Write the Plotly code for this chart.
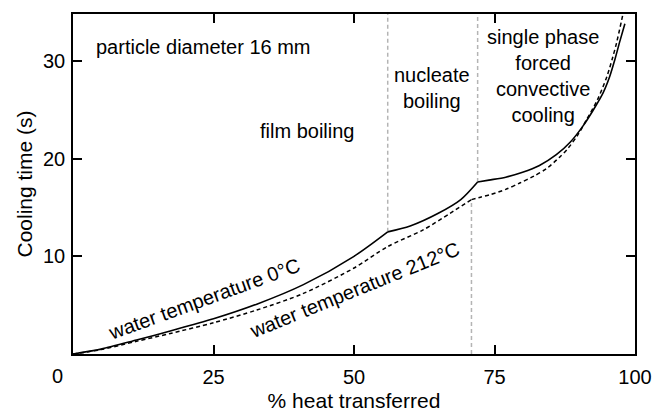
import plotly.graph_objects as go

# Cooling curve, water temperature 0°C (solid)
x_cold = [0, 5, 11.3, 17.3, 25, 32.7, 41, 50, 56, 60, 65, 69, 72, 74, 77, 80, 83, 86, 88.5, 90.7, 92.5, 94.3, 95.5, 96.4, 97.3, 98.2]
y_cold = [0, 0.5, 1.43, 2.35, 3.6, 5.1, 7.1, 10.0, 12.5, 13.1, 14.4, 15.8, 17.6, 17.8, 18.1, 18.6, 19.3, 20.4, 21.7, 23.3, 24.9, 26.7, 28.4, 30.1, 32.0, 33.8]
cold_knees = [56, 72]

# Cooling curve, water temperature 212°C (dashed)
x_hot = [0, 5, 11.3, 17.3, 25, 32.7, 41, 50, 56, 62.3, 67.1, 70.9, 72.5, 74.2, 77, 79.5, 82, 84.3, 86.5, 88, 89.8, 91.4, 93.3, 95, 96, 96.7, 97.9]
y_hot = [0, 0.45, 1.3, 2.1, 3.2, 4.5, 6.2, 8.8, 11.0, 12.7, 14.4, 15.8, 16.05, 16.3, 16.85, 17.5, 18.2, 19.0, 20.1, 21.0, 22.4, 24.0, 26.0, 28.4, 30.3, 31.8, 34.9]
hot_knees = [70.9]

# Regime boundaries (x position, y from, y to)
bound_x = [56, 72, 70.9]
bound_y0 = [12.5, 17.6, 0]
bound_y1 = [34.8, 34.8, 15.8]

x_ticks = [0, 25, 50, 75, 100]
x_ticktext = ["", "25", "50", "75", "100"]
y_ticks = [0, 10, 20, 30]
y_ticktext = ["", "10", "20", "30"]

FONT = "Liberation Sans, Arial, sans-serif"


def split_at(xs, ys, knees):
    segs = []
    start = 0
    for k in knees:
        i = xs.index(k)
        segs.append((xs[start:i + 1], ys[start:i + 1]))
        start = i
    segs.append((xs[start:], ys[start:]))
    return segs


fig = go.Figure()
for bx, b0, b1 in zip(bound_x, bound_y0, bound_y1):
    fig.add_trace(go.Scatter(x=[bx, bx], y=[b0, b1], mode="lines",
                             line=dict(color="#b4b4b4", width=1.5, dash="4px,3px"),
                             showlegend=False, hoverinfo="skip"))
for sx, sy in split_at(x_hot, y_hot, hot_knees):
    fig.add_trace(go.Scatter(x=sx, y=sy, mode="lines",
                             line=dict(color="black", width=1.5, dash="4px,3px", shape="spline", smoothing=0.8),
                             showlegend=False))
for sx, sy in split_at(x_cold, y_cold, cold_knees):
    fig.add_trace(go.Scatter(x=sx, y=sy, mode="lines",
                             line=dict(color="black", width=1.6, shape="spline", smoothing=0.8),
                             showlegend=False))

ann_font = dict(family=FONT, size=20, color="black")
annotations = [
    dict(x=3.7, y=31.4, text="particle diameter 16 mm", xanchor="left", yanchor="middle"),
    dict(x=41.6, y=22.8, text="film boiling", xanchor="center", yanchor="middle"),
    dict(x=63.9, y=27.2, text="nucleate<br>boiling", xanchor="center", yanchor="middle"),
    dict(x=83.6, y=28.5, text="single phase<br>forced<br>convective<br>cooling", xanchor="center", yanchor="middle"),
    dict(x=23.3, y=5.6, text="water temperature 0°C", textangle=-20, xanchor="center", yanchor="middle"),
    dict(x=50.0, y=6.6, text="water temperature 212°C", textangle=-22, xanchor="center", yanchor="middle"),
]
for a in annotations:
    a.update(xref="x", yref="y", showarrow=False, font=ann_font)
annotations.append(dict(xref="paper", yref="paper", x=-0.027, y=-0.066, text="0",
                        showarrow=False, xanchor="center", yanchor="middle",
                        font=dict(family=FONT, size=20, color="black")))

axis_common = dict(showline=True, linecolor="black", linewidth=1.5, mirror="ticks",
                   ticks="inside", ticklen=9, tickwidth=1.5, tickcolor="black",
                   showgrid=False, zeroline=False, automargin=False,
                   tickfont=dict(family=FONT, size=20, color="black"))

fig.update_layout(
    width=665, height=412,
    margin=dict(l=73, r=30, t=14, b=58),
    paper_bgcolor="white", plot_bgcolor="white",
    annotations=annotations,
    xaxis=dict(range=[0, 100], tickvals=x_ticks, ticktext=x_ticktext, ticklabelstandoff=4,
               title=dict(text="% heat transferred", font=dict(family=FONT, size=21, color="black"), standoff=7),
               **axis_common),
    yaxis=dict(range=[0, 34.8], tickvals=y_ticks, ticktext=y_ticktext, ticklabelstandoff=2,
               title=dict(text="Cooling time (s)", font=dict(family=FONT, size=21, color="black"), standoff=5),
               **axis_common),
)

fig.write_html("out.html")
